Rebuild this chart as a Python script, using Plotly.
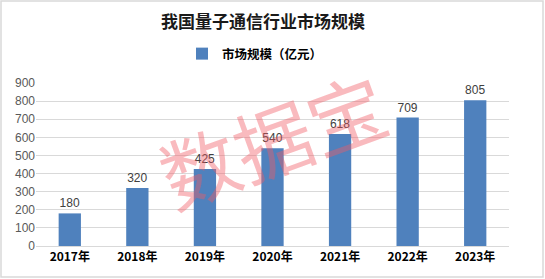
import plotly.graph_objects as go

years = ["2017年", "2018年", "2019年", "2020年", "2021年", "2022年", "2023年"]
values = [180, 320, 425, 540, 618, 709, 805]
series_name = "市场规模（亿元）"
title = "我国量子通信行业市场规模"
y_ticks = [0, 100, 200, 300, 400, 500, 600, 700, 800, 900]

W, H = 545, 279
L, R, T, B = 36, 36, 83, 33
pw, ph = W - L - R, H - T - B

fig = go.Figure()
fig.add_trace(go.Bar(
    x=years, y=values, name="<b>" + series_name + "</b>",
    marker=dict(color="#4F81BD", line=dict(width=0)),
    text=[str(v) for v in values], textposition="outside",
    textfont=dict(size=12, color="#404040", family="Liberation Sans, Arial"),
    cliponaxis=False,
))

def px_x(px):
    return (px - L) / pw

def px_y(py):
    return (H - B - py) / ph

fig.update_layout(
    width=W, height=H,
    margin=dict(l=L, r=R, t=T, b=B),
    paper_bgcolor="white", plot_bgcolor="white",
    bargap=0.67,
    showlegend=True,
    legend=dict(orientation="h", x=px_x(182), xanchor="left", y=px_y(54), yanchor="middle",
                font=dict(size=12.5, color="#000000", family="Noto Sans CJK SC"),
                itemwidth=30, bgcolor="rgba(0,0,0,0)"),
    title=dict(text="<b>" + title + "</b>", x=263 / W, xanchor="center", y=1 - 22 / H, yanchor="middle",
               font=dict(size=17, color="#1a1a1a", family="Noto Sans CJK SC")),
    xaxis=dict(showgrid=False, showline=True, linecolor="#D9D9D9", linewidth=1,
               tickfont=dict(size=12, color="#000000", family="Noto Sans CJK SC"),
               tickprefix="<b>", ticksuffix="</b>", ticks="", fixedrange=True),
    yaxis=dict(range=[0, 900], tickvals=y_ticks, showgrid=True, gridcolor="#D9D9D9", gridwidth=1,
               zeroline=False, showline=False, ticks="", ticklen=0,
               tickfont=dict(size=12, color="#595959", family="Liberation Sans, Arial"),
               fixedrange=True),
    font=dict(family="Noto Sans CJK SC"),
)

# outer light gray border
fig.add_shape(type="rect", xref="paper", yref="paper",
              x0=px_x(1), x1=px_x(W - 2), y0=px_y(H - 2), y1=px_y(1),
              line=dict(color="#D9D9D9", width=1.5), fillcolor="rgba(0,0,0,0)", layer="below")

# watermark
fig.add_annotation(text="数据宝", xref="paper", yref="paper",
                   x=px_x(272), y=px_y(138), showarrow=False, textangle=-20,
                   font=dict(size=78, color="rgba(240,90,100,0.42)", family="Noto Sans CJK SC"))

fig.write_html("out.html")
